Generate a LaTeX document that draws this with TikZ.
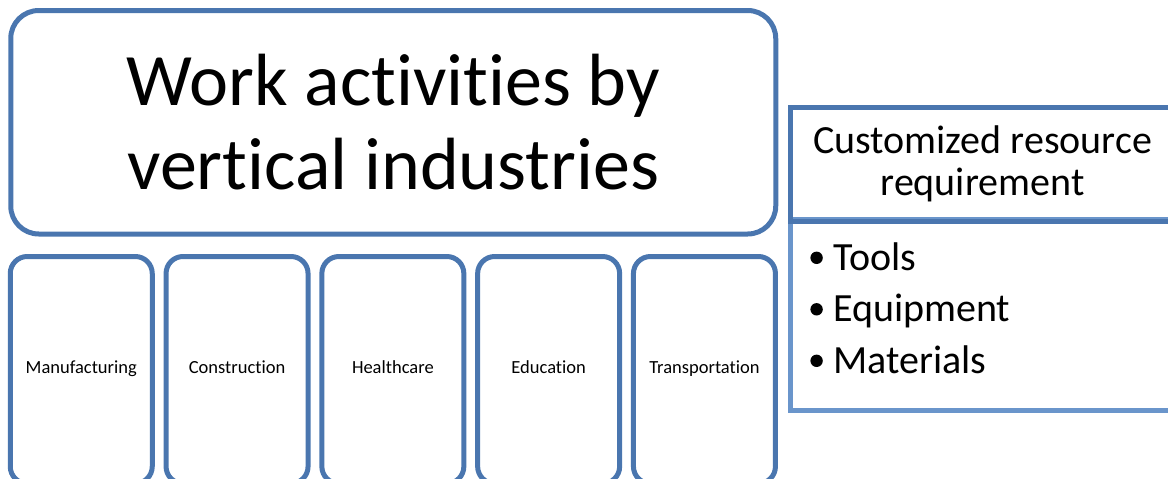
\documentclass[tikz,border=0pt]{standalone}
\usepackage{fontspec}
\setmainfont[Ligatures=NoCommon]{Carlito}
\usetikzlibrary{positioning}
\definecolor{boxblue}{RGB}{74,118,175}
\definecolor{listblue}{RGB}{106,149,203}

\begin{document}
\begin{tikzpicture}[x=1pt,y=-1pt,
	industry/.style={draw=boxblue, line width=5pt, rounded corners=17pt, inner sep=0pt,
		minimum width=142pt, minimum height=227pt, text height=11pt, text depth=4pt,
		font=\fontsize{18.5}{22}\selectfont},
	item/.style={anchor=base west, inner sep=0pt, font=\fontsize{40}{47}\selectfont}]
	\useasboundingbox (0,0) rectangle (1168,479);
	\clip (0,0) rectangle (1168,479);
	
	\node[draw=boxblue, line width=5pt, rounded corners=28pt, minimum width=765pt, minimum height=223.5pt,
		align=center, font=\fontsize{74}{84}\selectfont] (work) at (393.25,122.25) {Work activities by\\vertical industries};
	
	\node[industry] (manu) at (81.25,370) {Manufacturing};
	\node[industry] (cons) at (237.05,370) {Construction};
	\node[industry] (health) at (392.85,370) {Healthcare};
	\node[industry] (edu) at (548.65,370) {Education};
	\node[industry] (trans) at (704.45,370) {Transportation};
	
	\node[draw=listblue, line width=5pt, minimum width=384pt, minimum height=190.5pt] (needs) at (982.5,314.75) {};
	\node[draw=boxblue, line width=5pt, minimum width=384pt, minimum height=114pt, inner sep=0pt,
		align=center, font=\fontsize{40}{42}\selectfont] (custom) at (982.5,164) {Customized resource\\requirement};
	
	% bullets
	\fill (816.6,257.8) circle (6.2pt);
	\fill (816.6,309.3) circle (6.2pt);
	\fill (816.6,360.8) circle (6.2pt);
	\node[item] (tools) at (833,270) {Tools};
	\node[item] (equip) at (833,321.5) {Equipment};
	\node[item] (mats) at (833,373) {Materials};
\end{tikzpicture}
\end{document}
